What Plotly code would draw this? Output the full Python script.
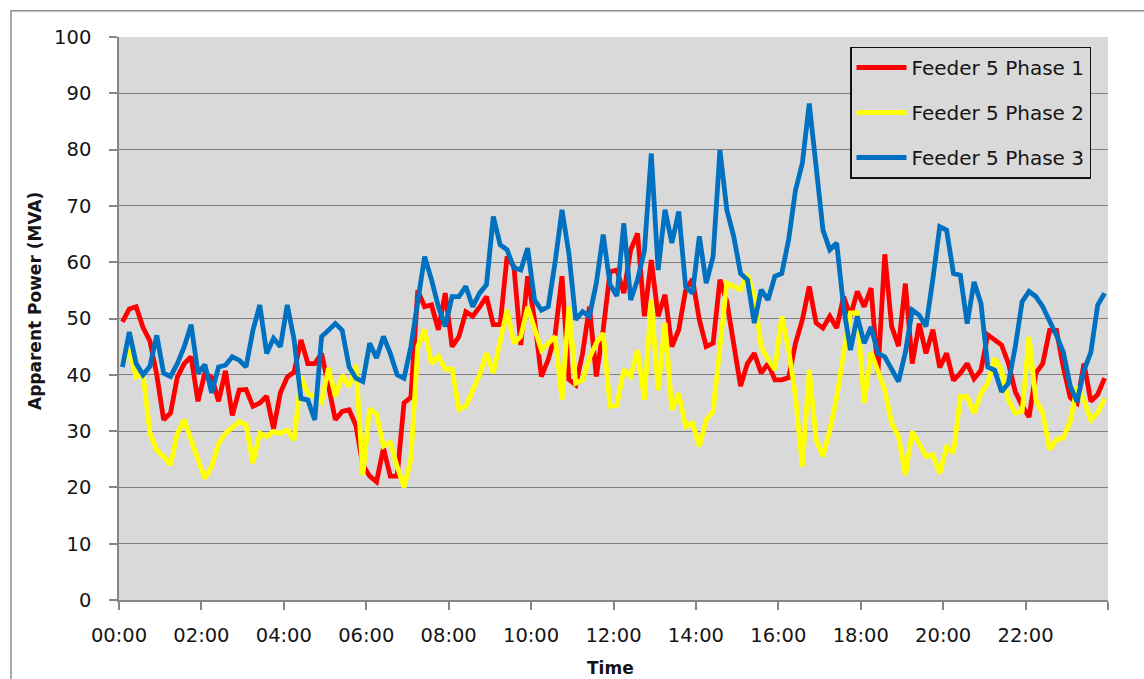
import plotly.graph_objects as go

# 10-minute readings across one day (values in MVA)
phase1 = [49.4, 51.7, 52.1, 48.4, 46, 40, 32, 33.2, 39.6, 42, 43.2, 35.3,
          40.3, 39.5, 35.3, 40.7, 32.8, 37.3, 37.4, 34.4, 35, 36.2, 30.4, 36.8,
          39.6, 40.5, 46.2, 42, 42, 43.8, 38, 32, 33.5, 33.8, 31, 24,
          22, 21, 27, 22, 22, 35, 36, 55, 52.1, 52.4, 48, 54.5,
          45, 46.8, 51.2, 50.4, 52, 53.9, 48.9, 48.9, 61, 59.2, 45.3, 57.5,
          49.8, 39.7, 42.7, 47.1, 57.5, 39.2, 38.2, 43.8, 52.1, 39.7, 48, 58.3,
          58.6, 54.5, 62.2, 65.1, 50.4, 60.4, 50.4, 54.2, 45, 48, 55, 57,
          49.8, 45, 45.6, 56.9, 53, 46, 38, 42, 43.8, 40.3, 42, 39.1,
          39.1, 39.5, 45.6, 49.8, 55.7, 49.2, 48.3, 50.4, 48.3, 53.9, 50.4, 54.8,
          52.1, 55.4, 40.3, 61.4, 48.6, 45.1, 56.2, 42, 49.1, 43.8, 48, 41.3,
          43.8, 39, 40.3, 42, 39.3, 40.8, 47.1, 46.2, 45.3, 42, 37, 34.5,
          32.5, 40.3, 42, 47.9, 47.9, 41.3, 36, 35, 42, 35.3, 36.5, 39.4]

phase2 = [42, 44.4, 39.6, 40.2, 29.6, 26.6, 25.5, 24, 29.6, 32, 28.4, 24.9,
          21.6, 23.7, 27.8, 29.6, 30.8, 31.7, 31.1, 24.3, 29.6, 29, 29.9, 29.6,
          30.2, 28.4, 39.6, 36.7, 36.1, 35.2, 41.2, 36.1, 39.9, 37.9, 41.7, 22.2,
          34, 33, 27.3, 28, 23.7, 20, 25, 45, 48, 42, 43.3, 41,
          41, 33.8, 34.4, 37, 40, 43.8, 40.3, 46, 51.5, 45.6, 46.8, 52.1,
          48, 44.4, 45.6, 46.8, 35.6, 52.1, 38.5, 39.1, 43, 45.6, 47.4, 34.4,
          34.6, 40.9, 39.7, 44.4, 35.6, 53.3, 37.3, 49.2, 33.8, 36.7, 30.8, 31.4,
          27.3, 32, 33.5, 44, 56.3, 55.7, 55.1, 57.8, 54, 45, 42.7, 40.9,
          50.4, 44.4, 36.1, 23.7, 40.9, 28.5, 25.5, 30.2, 36, 43.8, 51, 51,
          35, 44, 40.8, 37.3, 31.4, 29, 22.2, 29.9, 27.8, 25.5, 25.8, 22.5,
          27.2, 26.1, 36.1, 36.1, 33.2, 36.7, 38.5, 42.9, 40.8, 35.5, 33.2, 33.5,
          46.7, 35.5, 33.2, 26.7, 28.5, 28.8, 31.7, 37.9, 35.5, 32, 33.2, 35.8]

phase3 = [41.4, 47.6, 42, 40, 41.5, 47, 40.3, 39.7, 42, 45, 48.9, 40.3,
          41.8, 36.8, 41.4, 41.7, 43.2, 42.6, 41.4, 47.9, 52.4, 43.8, 46.5, 45,
          52.4, 46.2, 35.8, 35.5, 32, 46.8, 47.9, 49.1, 47.9, 41.4, 39.4, 38.8,
          45.6, 43, 46.8, 43.8, 40, 39.4, 45, 53, 61, 56.9, 52.1, 48.6,
          53.9, 53.9, 55.7, 52.1, 54.5, 56, 68.1, 63.1, 62.2, 59, 58.6, 62.5,
          53.3, 51.5, 52.1, 60, 69.3, 61.6, 49.8, 51.2, 50.4, 56.3, 64.9, 56,
          54, 66.9, 53.3, 56.9, 62, 79.3, 58.6, 69.3, 63.4, 69, 55.7, 54.5,
          64.6, 56.3, 61, 79.9, 69.3, 64.6, 58, 56.9, 49.2, 55.1, 53.3, 57.5,
          58, 64, 72.8, 77.6, 88.2, 77, 65.7, 62.2, 63.4, 52, 44.4, 50.4,
          45.6, 48.5, 43.8, 43.2, 40.8, 38.8, 44, 51.5, 50.6, 48.6, 57, 66.3,
          65.7, 58, 57.7, 49.1, 56.5, 52.7, 41.4, 40.8, 37, 38.5, 45, 53,
          54.8, 53.9, 52.1, 49.7, 47, 44, 38, 35.2, 40.8, 44, 52.4, 54.5]

series_names = ["Feeder 5 Phase 1", "Feeder 5 Phase 2", "Feeder 5 Phase 3"]
series_colors = ["#ff0000", "#ffff00", "#0070c0"]

# each reading sits in the middle of its 10-minute slot (hours of the day)
hours = [(5 + 10 * k) / 60 for k in range(len(phase1))]

tick_hours = list(range(0, 25, 2))
tick_text = [f"{h:02d}:00" for h in range(0, 24, 2)] + [""]

FONT = "DejaVu Sans"
TEXT = "#151515"
AXIS_GREY = "#868686"

# plot-area geometry in pixels, used to place the outer frame and titles
L, R, T, B = 119, 1108, 37, 600
def px_x(x):
    return (x - L) / (R - L)
def px_y(y):
    return (B - y) / (B - T)

fig = go.Figure()
for k, (name, vals, col) in enumerate(zip(series_names, [phase1, phase2, phase3], series_colors)):
    fig.add_trace(go.Scatter(
        x=hours, y=vals, mode="lines", name=name,
        line=dict(color=col, width=4.8),
        legendgroup=f"g{k}",
    ))

fig.update_layout(
    width=1144, height=679,
    margin=dict(l=L, r=1144 - R, t=T, b=679 - B),
    paper_bgcolor="white",
    plot_bgcolor="#d9d9d9",
    font=dict(family=FONT, color=TEXT),
    showlegend=True,
    legend=dict(
        x=px_x(850), y=px_y(46.5),
        xanchor="left", yanchor="top",
        bgcolor="#d9d9d9", bordercolor="#111111", borderwidth=1.5,
        font=dict(family=FONT, size=20, color=TEXT),
        tracegroupgap=16,
        itemwidth=50,
    ),
    xaxis=dict(
        range=[0, 24], tickmode="array", tickvals=tick_hours, ticktext=tick_text,
        showgrid=False, zeroline=False,
        showline=True, linecolor=AXIS_GREY, linewidth=1.5,
        ticks="outside", ticklen=8, tickwidth=1.5, tickcolor=AXIS_GREY,
        tickfont=dict(family=FONT, size=19.5, color=TEXT),
        ticklabelstandoff=9,
    ),
    yaxis=dict(
        range=[0, 100], dtick=10,
        showgrid=True, gridcolor="#7f7f7f", gridwidth=1.3,
        zeroline=False,
        showline=True, linecolor=AXIS_GREY, linewidth=1.5,
        ticks="outside", ticklen=8, tickwidth=1.5, tickcolor=AXIS_GREY,
        tickfont=dict(family=FONT, size=19.5, color=TEXT),
        ticklabelstandoff=14,
    ),
    annotations=[
        dict(text="<b>Time</b>", xref="paper", yref="paper",
             x=px_x(610), y=px_y(668), xanchor="center", yanchor="middle",
             showarrow=False, font=dict(family=FONT, size=17, color=TEXT)),
        dict(text="<b>Apparent Power (MVA)</b>", xref="paper", yref="paper",
             x=px_x(35), y=px_y(301), xanchor="center", yanchor="middle",
             textangle=-90, showarrow=False,
             font=dict(family=FONT, size=17, color=TEXT)),
    ],
    shapes=[dict(
        type="rect", xref="paper", yref="paper",
        x0=px_x(11), x1=1.2, y0=-0.3, y1=px_y(10.7),
        line=dict(color="#8c8c8c", width=1.5), fillcolor="rgba(0,0,0,0)",
        layer="below",
    )],
)

fig.write_html("out.html")
